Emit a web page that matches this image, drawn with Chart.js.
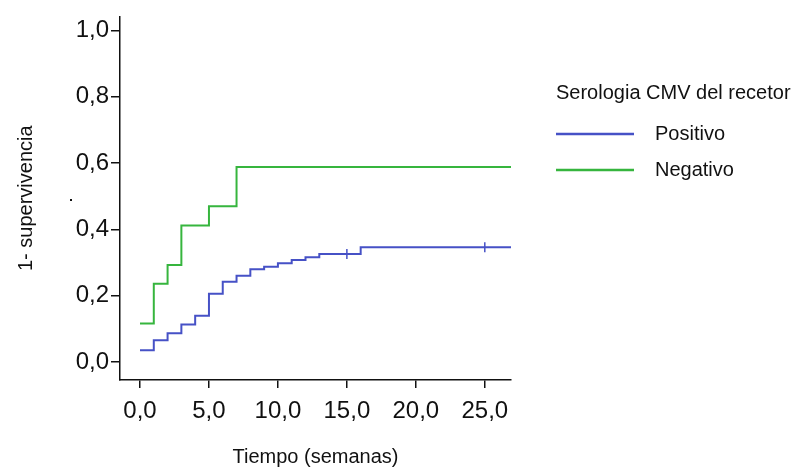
<!DOCTYPE html>
<html>
<head>
<meta charset="utf-8">
<script src="https://cdn.jsdelivr.net/npm/chart.js@4/dist/chart.umd.min.js"></script>
<style>
  html, body { margin: 0; padding: 0; background: #fff; }
  .chart-box { position: relative; width: 796px; height: 468px; }
</style>
</head>
<body>
<div class="chart-box"><canvas id="myChart"></canvas></div>
<script>
'use strict';
//  данные графика (1 - выживаемость по неделям)
//  серия "Positivo"
const posTimes = [0, 1, 2, 3, 4, 5, 6, 7, 8, 9, 10, 11, 12, 13, 16, 26.9];
const posValues = [0.036, 0.066, 0.087, 0.113, 0.140, 0.206, 0.242, 0.260, 0.280, 0.287, 0.298, 0.308, 0.316, 0.326, 0.346, 0.346];
//  серия "Negativo"
const negTimes = [0, 1, 2, 3, 5, 7, 26.9];
const negValues = [0.116, 0.236, 0.293, 0.412, 0.470, 0.588, 0.588];
//  цензурированные наблюдения (Positivo)
const censTimes = [15, 25];
const censValues = [0.326, 0.346];
//  подписи
const seriesLabels = ['Positivo', 'Negativo'];
const legendTitle = 'Serologia CMV del recetor';
const xTicks = [0, 5, 10, 15, 20, 25];
const yTicks = [0, 0.2, 0.4, 0.6, 0.8, 1.0];

const FONT = "'Liberation Sans', Arial, sans-serif";
const BLUE = '#4651c6';
const GREEN = '#36b53e';

//  собирает точки {x, y}
const toPoints = (xs, ys) => xs.map((x, i) => ({ x: x, y: ys[i] }));
const fmt = (v) => v.toFixed(1).replace('.', ',');

//  легенда справа
const sideLegend = {
  id: 'sideLegend',
  afterDraw(chart) {
    const ctx = chart.ctx;
    ctx.save();
    ctx.font = '20px ' + FONT;
    ctx.fillStyle = '#111';
    ctx.textBaseline = 'middle';
    ctx.fillText(legendTitle, 556, 93);
    const rows = [134, 170];
    chart.data.datasets.slice(0, 2).forEach((ds, i) => {
      ctx.strokeStyle = ds.borderColor;
      ctx.lineWidth = 2.5;
      ctx.beginPath();
      ctx.moveTo(556, rows[i]);
      ctx.lineTo(634, rows[i]);
      ctx.stroke();
      ctx.fillText(ds.label, 655, rows[i]);
    });
    //  точка у подписи оси
    ctx.fillRect(70, 199, 2, 2);
    ctx.restore();
  }
};

const ctx = document.getElementById('myChart').getContext('2d');
const chart = new Chart(ctx, {
  type: 'line',
  data: {
    datasets: [{
      label: seriesLabels[0],
      data: toPoints(posTimes, posValues),
      borderColor: BLUE,
      borderWidth: 2,
      stepped: true,
      pointRadius: 0
    }, {
      label: seriesLabels[1],
      data: toPoints(negTimes, negValues),
      borderColor: GREEN,
      borderWidth: 2,
      stepped: true,
      pointRadius: 0
    }, {
      label: 'censor',
      data: toPoints(censTimes, censValues),
      showLine: false,
      pointStyle: 'line',
      rotation: 90,
      pointRadius: 5,
      borderColor: BLUE,
      borderWidth: 1.5
    }]
  },
  options: {
    responsive: true,
    maintainAspectRatio: false,
    animation: false,
    layout: { padding: { left: 0, right: 285, top: 13, bottom: 0 } },
    plugins: {
      legend: { display: false },
      tooltip: { enabled: false }
    },
    scales: {
      x: {
        type: 'linear',
        min: -1.45,
        max: 26.9,
        afterFit: (s) => { s.height = 88; },
        afterBuildTicks: (s) => { s.ticks = xTicks.map(v => ({ value: v })); },
        border: { display: true, color: '#111', width: 1.5 },
        grid: { drawOnChartArea: false, drawTicks: true, tickLength: 8, color: '#111', lineWidth: 1.5 },
        ticks: {
          color: '#111',
          font: { family: FONT, size: 24 },
          padding: 9,
          maxRotation: 0,
          callback: (v) => fmt(v)
        },
        title: {
          display: true,
          text: 'Tiempo (semanas)',
          color: '#111',
          font: { family: FONT, size: 20 },
          padding: { top: 0, bottom: -1 }
        }
      },
      y: {
        type: 'linear',
        min: -0.054,
        max: 1.042,
        afterFit: (s) => { s.width = 120; },
        afterBuildTicks: (s) => { s.ticks = yTicks.map(v => ({ value: v })); },
        border: { display: true, color: '#111', width: 1.5 },
        grid: { drawOnChartArea: false, drawTicks: true, tickLength: 9, color: '#111', lineWidth: 1.5 },
        ticks: {
          color: '#111',
          font: { family: FONT, size: 24 },
          padding: 2,
          callback: (v) => fmt(v)
        },
        title: {
          display: true,
          text: '1- supervivencia',
          color: '#111',
          font: { family: FONT, size: 20 },
          padding: { top: 14, bottom: 0 }
        }
      }
    }
  },
  plugins: [sideLegend]
});
</script>
</body>
</html>
